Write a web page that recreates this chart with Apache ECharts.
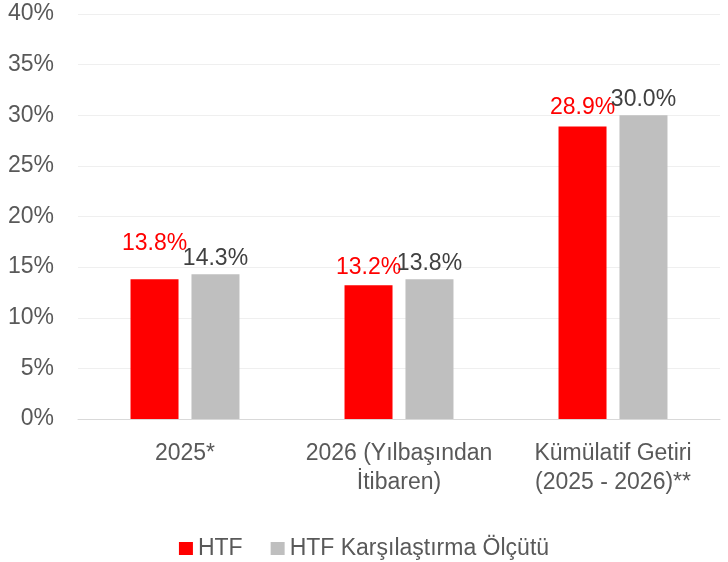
<!DOCTYPE html>
<html>
<head>
<meta charset="utf-8">
<script src="https://cdn.jsdelivr.net/npm/echarts@6/dist/echarts.min.js"></script>
<style>
  html, body { margin: 0; padding: 0; background: #fff; }
  #chart { width: 728px; height: 562px; }
</style>
</head>
<body>
<div id="chart"></div>
<script>
// kategoriler ve değerler
var categories = ['2025*', '2026 (Yılbaşından\nİtibaren)', 'Kümülatif Getiri\n(2025 - 2026)**'];
var htfValues = [13.8, 13.2, 28.9];
var benchValues = [14.3, 13.8, 30.0];
var seriesNames = ['HTF', 'HTF Karşılaştırma Ölçütü'];
var yTicks = [0, 5, 10, 15, 20, 25, 30, 35, 40];

// kırmızı etiketler biraz yukarıda duruyor
var redOffsets = [[0, -20], [0, -2], [0, -3]];

var FONT = '"Liberation Sans", Arial, sans-serif';
var FS = 23;

var chart = echarts.init(document.getElementById('chart'));

var htfData = htfValues.map(function (v, i) {
  return { value: v, label: { offset: redOffsets[i] } };
});

chart.setOption({
  animation: false,
  textStyle: { fontFamily: FONT },
  grid: { left: 78, right: 8, top: 14, bottom: 143, containLabel: false },
  legend: {
    top: 532,
    left: 'center',
    itemWidth: 14,
    itemHeight: 13,
    itemGap: 28,
    icon: 'rect',
    textStyle: { fontSize: FS, color: '#595959', fontFamily: FONT, padding: [0, 0, 0, 0] },
    data: seriesNames
  },
  xAxis: {
    type: 'category',
    data: categories,
    axisLine: { lineStyle: { color: '#d9d9d9', width: 1 } },
    axisTick: { show: false },
    axisLabel: {
      color: '#595959',
      fontSize: FS,
      lineHeight: 29,
      margin: 20,
      interval: 0,
      fontFamily: FONT
    }
  },
  yAxis: {
    type: 'value',
    min: yTicks[0],
    max: yTicks[yTicks.length - 1],
    interval: 5,
    axisLine: { show: false },
    axisTick: { show: false },
    splitLine: { lineStyle: { color: '#efefef', width: 1 } },
    axisLabel: {
      color: '#595959',
      fontSize: FS,
      margin: 24,
      fontFamily: FONT,
      formatter: function (v) { return v + '%'; }
    }
  },
  series: [
    {
      name: seriesNames[0],
      type: 'bar',
      data: htfData,
      barWidth: 48,
      barGap: '27%',
      itemStyle: { color: '#ff0000' },
      label: {
        show: true,
        position: 'top',
        distance: 4,
        color: '#ff0000',
        fontSize: FS,
        fontFamily: FONT,
        formatter: function (p) { return p.value.toFixed(1) + '%'; }
      }
    },
    {
      name: seriesNames[1],
      type: 'bar',
      data: benchValues,
      barWidth: 48,
      itemStyle: { color: '#bfbfbf' },
      label: {
        show: true,
        position: 'top',
        distance: 4,
        color: '#404040',
        fontSize: FS,
        fontFamily: FONT,
        formatter: function (p) { return p.value.toFixed(1) + '%'; }
      }
    }
  ]
});
</script>
</body>
</html>
